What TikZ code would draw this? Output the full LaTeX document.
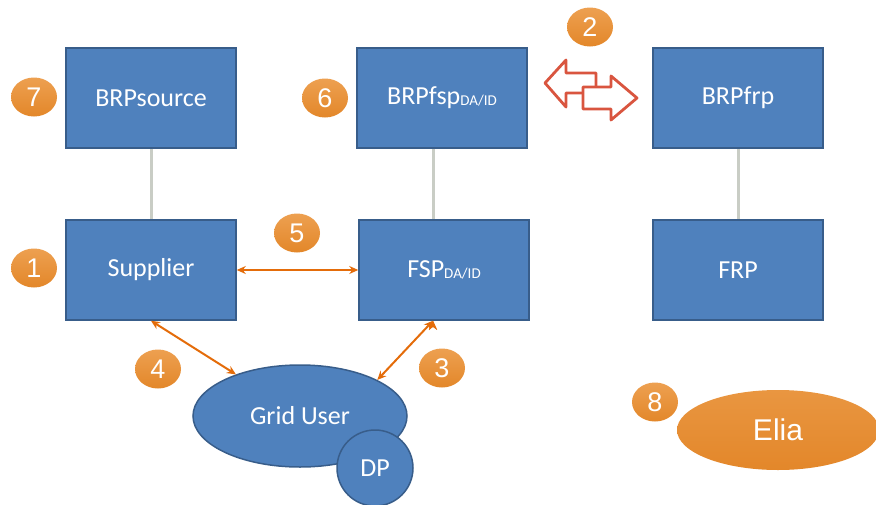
\documentclass[tikz,border=0pt]{standalone}
\usepackage{fontspec}
\setmainfont{Carlito}
\newfontfamily\arialfont{Liberation Sans}
\usetikzlibrary{arrows.meta,shapes.geometric}

\definecolor{boxblue}{HTML}{4F81BD}
\definecolor{boxline}{HTML}{385D8A}
\definecolor{badgeor}{HTML}{E3872A}
\definecolor{badgetop}{HTML}{EDA050}
\definecolor{linkor}{HTML}{E46C0A}
\definecolor{swapred}{HTML}{D9553F}
\definecolor{stemgrey}{HTML}{C9CDC5}

\newcommand{\lowtag}[1]{\raisebox{-1pt}{\fontsize{15}{15}\selectfont #1}}

\begin{document}
\begin{tikzpicture}[x=1pt, y=-1pt, >={Stealth[length=9pt,width=8pt]},
                    actor/.style={draw=boxline, fill=boxblue, line width=1.5pt, minimum width=170pt,
                                  minimum height=100pt, text=white, font=\fontsize{26}{26}\selectfont},
                    badge/.style={ellipse, top color=badgetop, bottom color=badgeor, text=white,
                                  minimum width=46pt, minimum height=39pt,
                                  inner sep=0pt, font=\arialfont\fontsize{27}{27}\selectfont},
                    link/.style={<->, draw=linkor, line width=2pt},
                    stem/.style={draw=stemgrey, line width=3pt},
                    swap/.style={draw=swapred, fill=white, line width=2.8pt, line join=round}]

\useasboundingbox (0,0) rectangle (876,504);

% blue boxes
\node[actor] (brpsource) at (151,98) {BRPsource};
\node[actor] (brpfsp) at (442,98) {BRPfsp\lowtag{DA/ID}};
\node[actor] (brpfrp) at (738,98) {BRPfrp};
\node[actor] (supplier) at (151,270) {Supplier};
\node[actor] (fsp) at (444,270) {FSP\lowtag{DA/ID}};
\node[actor] (frp) at (738,270) {FRP};

% grid user
\node[ellipse, draw=boxline, fill=boxblue, line width=1.5pt, minimum width=214pt, minimum height=102pt,
      text=white, font=\fontsize{26}{26}\selectfont] (gu) at (300,416) {Grid User};
\node[circle, draw=boxline, fill=boxblue, line width=1.5pt, minimum size=76pt,
      text=white, font=\fontsize{26}{26}\selectfont] (dp) at (375,468) {DP};

% elia
\node[ellipse, top color=badgetop!60!badgeor, bottom color=badgeor, minimum width=202pt, minimum height=80pt,
      text=white, font=\arialfont\fontsize{30}{30}\selectfont] (elia) at (778,430) {Elia};

% grey stems
\draw[stem] (brpsource) -- (supplier);
\draw[stem] ([xshift=-9pt]brpfsp.south) -- ([xshift=-11pt]fsp.north);
\draw[stem] (brpfrp) -- (frp);

% orange links
\path[link]
(supplier.east) edge (fsp.west)
(supplier.south) edge (gu.147)
([xshift=-11pt]fsp.south) edge (gu.25.6);

% swap arrows
\draw[swap] (545,83) -- (566,60) -- (566,73) -- (596,73) -- (596,93) -- (566,93) -- (566,107) -- cycle;
\draw[swap] (637,98) -- (611,76) -- (611,87) -- (583,87) -- (583,109) -- (611,109) -- (611,120) -- cycle;

% numbers
\node[badge] (n7) at (34,97) {7};
\node[badge] (n6) at (325,98) {6};
\node[badge] (n2) at (590,27) {2};
\node[badge] (n1) at (34,268) {1};
\node[badge] (n5) at (297,233) {5};
\node[badge] (n4) at (158,369) {4};
\node[badge] (n3) at (442,368) {3};
\node[badge] (n8) at (655,402) {8};
\end{tikzpicture}
\end{document}
